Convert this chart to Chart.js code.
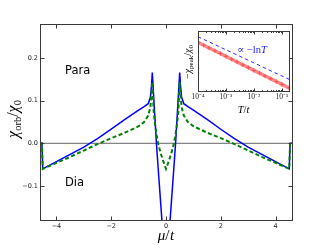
<!DOCTYPE html>
<html><head><meta charset="utf-8">
<script src="https://cdn.jsdelivr.net/npm/chart.js@4.4.0/dist/chart.umd.min.js"></script>
<style>
html,body{margin:0;padding:0;background:#fff;}
#wrap{position:relative;width:325px;height:245px;overflow:hidden;}
#main{position:absolute;left:0;top:0;}
#inset{position:absolute;left:180px;top:25px;}
</style></head><body>
<div id="wrap"><canvas id="main" width="325" height="245"></canvas><canvas id="inset" width="115" height="90"></canvas></div>
<script>
// ---- main panel data ----
const mu = [-4.6, -4.53, -4.5, -4.0, -3.5, -3.0, -2.5, -2.0, -1.5, -1.0, -0.8, -0.65, -0.57, -0.53, -0.5, -0.45, -0.4, -0.35, -0.29, -0.2, -0.1, 0,
            0.1, 0.2, 0.29, 0.35, 0.4, 0.45, 0.5, 0.53, 0.57, 0.65, 0.8, 1.0, 1.5, 2.0, 2.5, 3.0, 3.5, 4.0, 4.5, 4.53, 4.6];
const chiBlue = [0, 0, -0.06, -0.043, -0.026, -0.009, 0.011, 0.033, 0.056, 0.078, 0.086, 0.093, 0.108, 0.135, 0.166, 0.11, 0.055, 0.0, -0.055, -0.135, -0.225, -0.32,
                 -0.225, -0.135, -0.055, 0.0, 0.055, 0.11, 0.166, 0.135, 0.108, 0.093, 0.086, 0.078, 0.056, 0.033, 0.011, -0.009, -0.026, -0.043, -0.06, 0, 0];
const chiGreen = [0, 0, -0.06, -0.046, -0.032, -0.017, -0.002, 0.012, 0.025, 0.04, 0.05, 0.065, 0.085, 0.115, 0.144, 0.075, 0.045, 0.022, 0.0, -0.022, -0.042, -0.06,
                  -0.042, -0.022, 0.0, 0.022, 0.045, 0.075, 0.144, 0.115, 0.085, 0.065, 0.05, 0.04, 0.025, 0.012, -0.002, -0.017, -0.032, -0.046, -0.06, 0, 0];
const muRange = [-4.6, 4.6];
const chiRange = [-0.18, 0.28];
const zeroLine = [0, 0];
const xTicks = [-4, -2, 0, 2, 4];
const yTicks = [-0.1, 0.0, 0.1, 0.2];

// ---- inset data ----
const T = [1e-4, 1.6e-4, 2.5e-4, 4e-4, 6.3e-4, 1e-3, 1.6e-3, 2.5e-3, 4e-3, 6.3e-3, 1e-2, 1.6e-2, 2.5e-2, 4e-2, 6.3e-2, 0.1, 0.18];
const chiPeak = [0.81, 0.763, 0.717, 0.67, 0.624, 0.577, 0.53, 0.484, 0.437, 0.391, 0.344, 0.297, 0.251, 0.204, 0.158, 0.111, 0.052];
const fitT = [1e-4, 0.18];
const fitVal = [0.905, 0.195];
const TRange = [1e-4, 0.18];
const insetXTicks = [1e-4, 1e-3, 1e-2, 1e-1];
const insetXTickLabels = ['10⁻⁴', '10⁻³', '10⁻²', '10⁻¹'];

const SERIF = '"Liberation Serif", "DejaVu Serif", serif';
const SANS = '"DejaVu Sans", sans-serif';

function drawRich(ctx, parts, x, y, rotate) {
  ctx.save();
  ctx.translate(x, y);
  if (rotate) ctx.rotate(-Math.PI / 2);
  let w = 0;
  for (const p of parts) { ctx.font = p.f; p.w = ctx.measureText(p.t).width; w += p.w + (p.g || 0); }
  let cx = -w / 2;
  ctx.textBaseline = 'alphabetic';
  ctx.textAlign = 'left';
  for (const p of parts) {
    ctx.font = p.f; ctx.fillStyle = p.c || '#000';
    ctx.fillText(p.t, cx, p.dy || 0);
    cx += p.w + (p.g || 0);
  }
  ctx.restore();
}

function pts(xs, ys) { return xs.map((x, i) => ({ x: x, y: ys[i] })); }

const mainFrame = {
  id: 'mainFrame',
  afterDraw(chart) {
    const { ctx, chartArea: a, scales } = chart;
    ctx.save();
    ctx.strokeStyle = '#3a3a3a'; ctx.lineWidth = 1;
    const L = a.left + 0.5, R = a.right + 0.5, Tp = a.top + 0.5, B = a.bottom + 0.5;
    ctx.strokeRect(L, Tp, R - L, B - Tp);
    ctx.beginPath();
    for (const v of xTicks) {
      const px = Math.round(scales.x.getPixelForValue(v)) + 0.5;
      ctx.moveTo(px, B); ctx.lineTo(px, B - 4);
      ctx.moveTo(px, Tp); ctx.lineTo(px, Tp + 4);
    }
    for (const v of yTicks) {
      const py = Math.round(scales.y.getPixelForValue(v)) + 0.5;
      ctx.moveTo(L, py); ctx.lineTo(L + 4, py);
      ctx.moveTo(R, py); ctx.lineTo(R - 4, py);
    }
    ctx.stroke();
    ctx.fillStyle = '#000';
    ctx.font = '11.5px ' + SANS;
    ctx.textAlign = 'left'; ctx.textBaseline = 'alphabetic';
    ctx.fillText('Para', 65, 73.5);
    ctx.fillText('Dia', 65, 185.5);
    // axis titles
    drawRich(ctx, [
      { t: 'μ', f: 'italic 15px ' + SERIF },
      { t: '/', f: '15px ' + SERIF, g: 0.5 },
      { t: 't', f: 'italic 15px ' + SERIF }
    ], (a.left + a.right) / 2, 240, false);
    drawRich(ctx, [
      { t: 'χ', f: 'italic 16px ' + SERIF },
      { t: 'orb', f: '10.5px ' + SERIF, dy: 3 },
      { t: '/', f: '16px ' + SERIF },
      { t: 'χ', f: 'italic 16px ' + SERIF },
      { t: '0', f: '10.5px ' + SERIF, dy: 3 }
    ], 18, 119, true);
    ctx.restore();
  }
};

new Chart(document.getElementById('main'), {
  type: 'line',
  data: {
    datasets: [
      { data: pts(muRange, zeroLine), borderColor: '#666', borderWidth: 1, pointRadius: 0, order: 3 },
      { data: pts(mu, chiBlue), borderColor: '#0000ff', borderWidth: 1.5, pointRadius: 0, order: 2, tension: 0 },
      { data: pts(mu, chiGreen), borderColor: '#008000', borderWidth: 2, borderDash: [4, 2.5], pointRadius: 0, order: 1, tension: 0 }
    ]
  },
  options: {
    responsive: false, devicePixelRatio: 1, animation: false,
    layout: { padding: { left: 0, right: 33, top: 24, bottom: 0 } },
    plugins: { legend: { display: false }, tooltip: { enabled: false } },
    scales: {
      x: {
        type: 'linear', min: muRange[0], max: muRange[1],
        grid: { display: false, drawTicks: false }, border: { display: false },
        afterBuildTicks: s => { s.ticks = xTicks.map(v => ({ value: v })); },
        afterFit: s => { s.height = 25; },
        ticks: { autoSkip: false, maxRotation: 0, padding: 2, color: '#222', font: { family: 'DejaVu Sans', size: 6.5 },
          callback: v => (v < 0 ? '−' : '') + Math.abs(v) }
      },
      y: {
        type: 'linear', min: chiRange[0], max: chiRange[1],
        grid: { display: false, drawTicks: false }, border: { display: false },
        afterBuildTicks: s => { s.ticks = yTicks.map(v => ({ value: v })); },
        afterFit: s => { s.width = 40; },
        ticks: { autoSkip: false, padding: 2, color: '#222', font: { family: 'DejaVu Sans', size: 6.5 },
          callback: v => (v < -1e-9 ? '−' : '') + Math.abs(v).toFixed(1) }
      }
    }
  },
  plugins: [mainFrame]
});

const insetFrame = {
  id: 'insetFrame',
  beforeDatasetsDraw(chart) {
    const { ctx, chartArea: a } = chart;
    ctx.save(); ctx.fillStyle = '#fff';
    ctx.fillRect(a.left, a.top, a.right - a.left, a.bottom - a.top);
    ctx.restore();
  },
  afterDraw(chart) {
    const { ctx, chartArea: a, scales } = chart;
    ctx.save();
    ctx.strokeStyle = '#3a3a3a'; ctx.lineWidth = 1;
    const L = a.left + 0.5, R = a.right + 0.5, Tp = a.top + 0.5, B = a.bottom + 0.5;
    ctx.strokeRect(L, Tp, R - L, B - Tp);
    ctx.beginPath();
    for (const v of insetXTicks) {
      const px = Math.round(scales.x.getPixelForValue(v)) + 0.5;
      ctx.moveTo(px, B); ctx.lineTo(px, B - 3);
      ctx.moveTo(px, Tp); ctx.lineTo(px, Tp + 3);
      for (let k = 2; k <= 9; k++) {
        const m = v * k;
        if (m > TRange[1]) break;
        const qx = Math.round(scales.x.getPixelForValue(m)) + 0.5;
        ctx.moveTo(qx, B); ctx.lineTo(qx, B - 1.5);
        ctx.moveTo(qx, Tp); ctx.lineTo(qx, Tp + 1.5);
      }
    }
    ctx.stroke();
    drawRich(ctx, [
      { t: '∝ −ln', f: '10.5px ' + SERIF, c: '#2020ff' },
      { t: 'T', f: 'italic 10.5px ' + SERIF, c: '#2020ff' }
    ], 72, 28, false);
    drawRich(ctx, [
      { t: 'T', f: 'italic 10.5px ' + SERIF },
      { t: '/', f: '10.5px ' + SERIF },
      { t: 't', f: 'italic 10.5px ' + SERIF }
    ], (a.left + a.right) / 2, 88, false);
    drawRich(ctx, [
      { t: '−', f: '10px ' + SERIF },
      { t: 'χ', f: 'italic 10px ' + SERIF },
      { t: 'peak', f: '7px ' + SERIF, dy: 2 },
      { t: '/', f: '10px ' + SERIF },
      { t: 'χ', f: 'italic 10px ' + SERIF },
      { t: '0', f: '7px ' + SERIF, dy: 2 }
    ], 11, 37, true);
    ctx.restore();
  }
};

new Chart(document.getElementById('inset'), {
  type: 'line',
  data: {
    datasets: [
      { data: pts(fitT, fitVal), borderColor: '#2a2aff', borderWidth: 1, borderDash: [3.5, 3], pointRadius: 0, order: 2 },
      { data: pts(T, chiPeak), borderColor: '#ff8a8a', borderWidth: 3.5, pointStyle: 'cross', pointRadius: 2.2,
        pointBorderColor: '#ff4a4a', pointBorderWidth: 0.9, pointBackgroundColor: '#ff4a4a', order: 1 }
    ]
  },
  options: {
    responsive: false, devicePixelRatio: 1, animation: false,
    layout: { padding: { left: 18, right: 6, top: 6, bottom: 0 } },
    plugins: { legend: { display: false }, tooltip: { enabled: false } },
    scales: {
      x: {
        type: 'logarithmic', min: TRange[0], max: TRange[1],
        grid: { display: false, drawTicks: false }, border: { display: false },
        afterBuildTicks: s => { s.ticks = insetXTicks.map(v => ({ value: v })); },
        afterFit: s => { s.height = 24; },
        ticks: { autoSkip: false, maxRotation: 0, padding: 2, color: '#222', font: { family: 'Liberation Serif', size: 7.5 },
          callback: (v, i) => insetXTickLabels[i] }
      },
      y: { type: 'linear', min: 0, max: 1, display: false }
    }
  },
  plugins: [insetFrame]
});
</script>
</body></html>
